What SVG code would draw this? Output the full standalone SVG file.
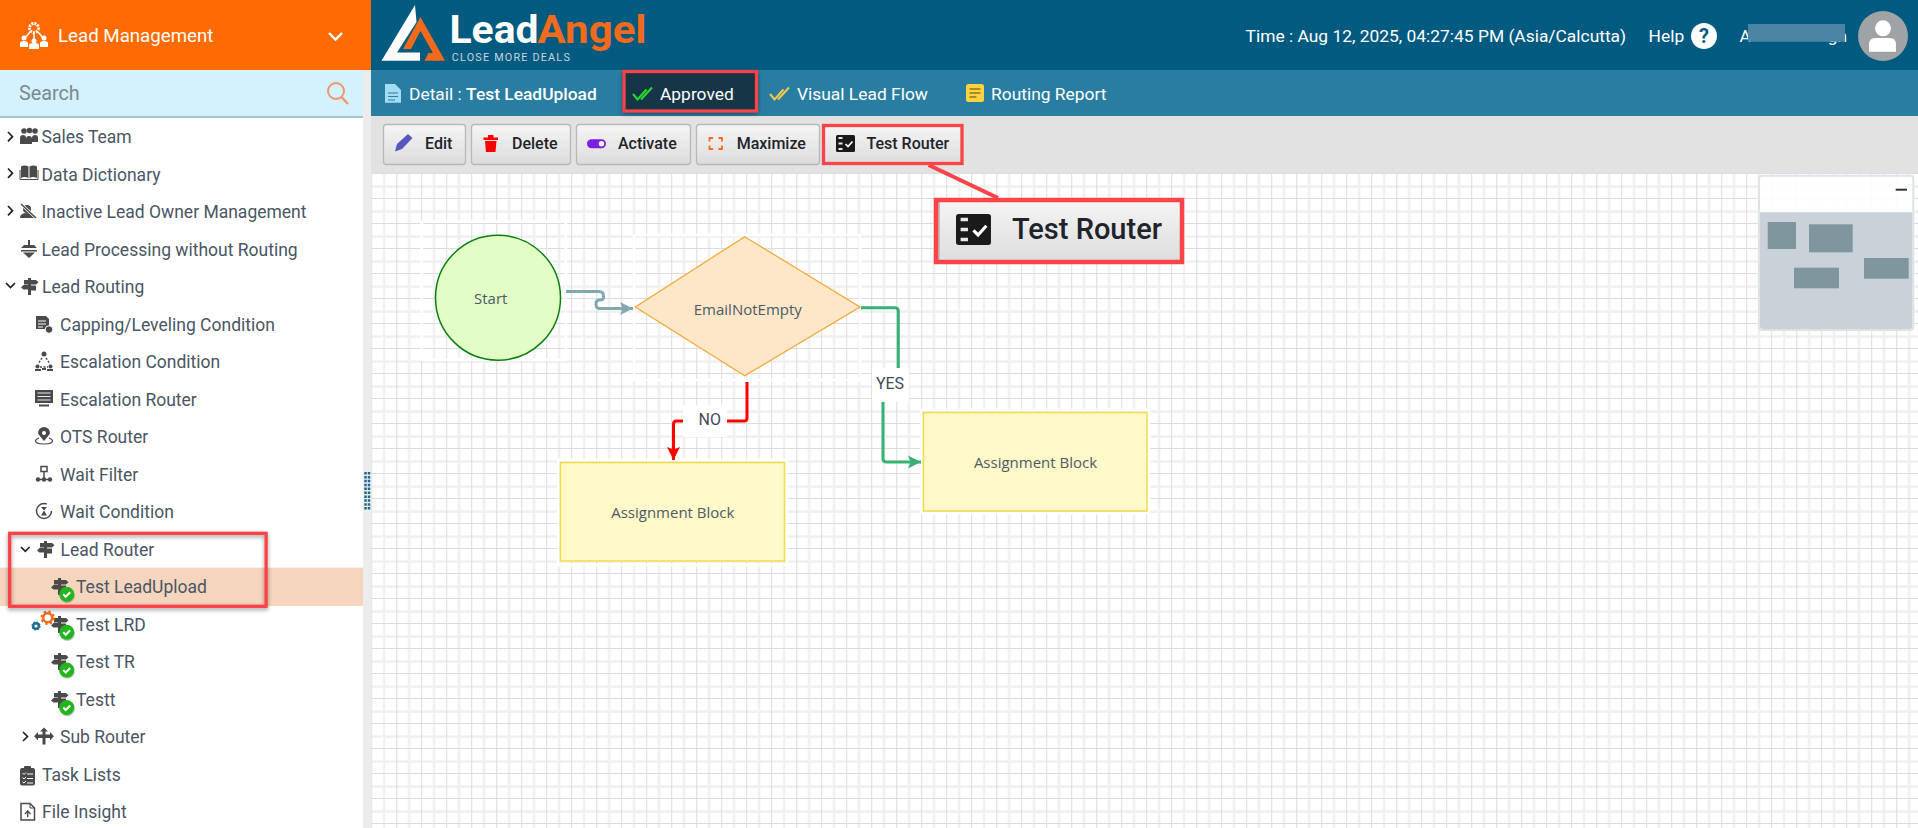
<svg xmlns="http://www.w3.org/2000/svg" xmlns:xlink="http://www.w3.org/1999/xlink" width="1918" height="828" viewBox="0 0 1918 828">
<style>
text{font-family:Roboto,"Liberation Sans",sans-serif}
.m{font-size:17.500px;fill:#4a5663}
.t{font-size:17.400px;fill:#fff}
.b{font-size:16px;font-weight:500;fill:#20242a}
.n{font-family:"Open Sans","Noto Sans",sans-serif;font-size:15px;fill:#4d5a66;text-anchor:middle}
.l{font-size:16px;fill:#3f4a55;text-anchor:middle}
.r{fill:none;stroke:#fb4348}
.i{fill:#4a4a4a}
.c{fill:none;stroke-width:3;stroke-linejoin:round}
.btn{fill:url(#bg);stroke:#b8b8b8;stroke-width:1.300}
.halo{fill:none;stroke:#fff;stroke-width:2.500}
.ch{fill:none;stroke:#222;stroke-width:1.700}
.mm{fill:#7f969f}
</style>
<defs>
<linearGradient id="bg" x1="0" y1="0" x2="0" y2="1"><stop offset="0" stop-color="#f5f5f5"/><stop offset="1" stop-color="#dcdcdc"/></linearGradient>
<pattern id="grid" width="25" height="25" patternUnits="userSpaceOnUse" x="371.200" y="173">
<rect width="25" height="25" fill="#fff"/>
<rect x="11.700" y="0" width="2.400" height="25" fill="#f0f0f0"/>
<rect x="0" y="12.400" width="25" height="2.400" fill="#f0f0f0"/>
<rect x="0" y="0" width="1" height="25" fill="#dddddd"/>
<rect x="0" y="0" width="25" height="1" fill="#dddddd"/>
</pattern>
<filter id="sh" x="-10%" y="-20%" width="120%" height="140%"><feDropShadow dx="0" dy="2" stdDeviation="2" flood-color="#000" flood-opacity=".4"/></filter>
<filter id="sh2" x="-20%" y="-20%" width="140%" height="140%"><feDropShadow dx="0.500" dy="1" stdDeviation="0.700" flood-color="#000" flood-opacity=".35"/></filter>
<g id="sign" class="i"><path d="M7 0h3v2h5l2.500 2.300-2.500 2.300h-5v1h5v4.900h-5V17H7v-5.500H2.500L0 9.500l2.500-2.400H7v-.5H3V2h4z"/></g>
<g id="ok"><circle r="7.500" fill="#22b51e" filter="url(#sh2)"/><path d="M-3.500 0l2.500 2.500 4.500-4.500" fill="none" stroke="#fff" stroke-width="2"/></g>
<g id="tr"><rect width="19" height="17" rx="1.500" fill="#1a1a1a"/><path d="M2.500 3h4M2.500 8.500h4M2.500 14h4" stroke="#e8e8e8" stroke-width="2"/><path d="M9.500 9l2.500 2.500 4.500-5" fill="none" stroke="#fff" stroke-width="1.700"/></g>
<marker id="aG" viewBox="0 0 15 15" refX="14" refY="7.500" markerWidth="15" markerHeight="15" markerUnits="userSpaceOnUse" orient="auto"><path d="M1 1l13 6.500-13 6.500 2.500-6.500z" fill="#38b174"/></marker>
<marker id="aR" viewBox="0 0 15 15" refX="14" refY="7.500" markerWidth="15" markerHeight="15" markerUnits="userSpaceOnUse" orient="auto"><path d="M1 1l13 6.500-13 6.500 2.500-6.500z" fill="#ff0000"/></marker>
<marker id="aB" viewBox="0 0 15 15" refX="14" refY="7.500" markerWidth="15" markerHeight="15" markerUnits="userSpaceOnUse" orient="auto"><path d="M1 1l13 6.500-13 6.500 2.500-6.500z" fill="#82a9b2"/></marker>
</defs>

<rect width="1918" height="828" fill="#fff"/>
<g id="canvas">
<rect x="371" y="173" width="1547" height="655" fill="url(#grid)"/>
<rect x="421.700" y="221.700" width="144" height="138" class="halo"/>
<rect x="634" y="235" width="226" height="145" class="halo"/>
<rect x="558" y="460" width="229" height="105" class="halo"/>
<rect x="921" y="410" width="228" height="103" class="halo"/>
</g>
<g id="gutter">
<rect x="363" y="70" width="8.500" height="758" fill="#ececec"/>
<path d="M365.500 472v38M369 472v38" stroke="#1c6a8c" stroke-width="2.500" stroke-dasharray="2.500 1.400" fill="none"/>
</g>

<g id="header">
<rect x="371" y="0" width="1547" height="70" fill="#015a80"/>
<rect x="371" y="70" width="1547" height="46" fill="#297da1"/>
<rect x="371" y="116" width="1547" height="57" fill="#e2e2e2"/>
<rect x="0" y="0" width="371" height="70" fill="#ff6b00"/>
</g>

<g id="brand">
<circle cx="34" cy="28" r="4.500" fill="none" stroke="#fff" stroke-width="3" stroke-dasharray="2 1"/>
<path d="M30 32l-6 7M38 32l6 7M34 33v6" stroke="#fff" stroke-width="1.500"/>
<circle cx="24" cy="38" r="2.500" fill="#fff"/><circle cx="34" cy="41" r="2.500" fill="#fff"/><circle cx="44" cy="38" r="2.500" fill="#fff"/>
<path d="M20 47v-4q0-2 4-2t4 2v4zM29 49v-4q0-2 5-2t5 2v4zM40 47v-4q0-2 4-2t4 2v4z" fill="#fff"/>
<text x="58" y="41.700" style="font-size:18.700px;fill:#fff">Lead Management</text>
<path d="M329 33l6.500 6.500 6.500-6.500" fill="none" stroke="#fff" stroke-width="2.400"/>
</g>
<g id="logo">
<path d="M415 5L416.500 22 397 52.500H420L420 60.700H381.500z" fill="#fff"/>
<path d="M420.400 17L445 60.700H424.500L428.500 53H433L420.400 31 411 49H403z" fill="#f26a1b"/>
<text x="449.500" y="43.300" style="font-size:38px;font-weight:700;fill:#fff" textLength="89" lengthAdjust="spacingAndGlyphs">Lead</text>
<text x="537.500" y="43.300" style="font-size:38px;font-weight:700;fill:#f26a1b" textLength="109" lengthAdjust="spacingAndGlyphs">Angel</text>
<text x="451.800" y="61" style="font-size:10.800px;fill:#c8d7de" textLength="118">CLOSE MORE DEALS</text>
</g>
<g id="top-right">
<text x="1245.600" y="41.700" class="t">Time : Aug 12, 2025, 04:27:45 PM (Asia/Calcutta)</text>
<text x="1648.600" y="41.700" class="t">Help</text>
<circle cx="1704" cy="36" r="13" fill="#fff"/><text x="1704" y="43" text-anchor="middle" style="font-size:20px;font-weight:700;fill:#015a80">?</text>
<text x="1739.400" y="41.700" class="t">A</text>
<text x="1847" y="41.700" class="t" text-anchor="end">gh</text>
<rect x="1748" y="24" width="97" height="17.700" fill="#4a85a5"/>
<circle cx="1883" cy="36" r="25" fill="#9fa3a6"/>
<circle cx="1883" cy="28.300" r="8" fill="#fff"/><path d="M1869 51.700v-7q0-6.700 6-6.700h15q6 0 6 6.700v7z" fill="#fff"/>
</g>

<g id="search">
<rect x="0" y="70" width="363" height="46" fill="#d4f1fe"/>
<rect x="0" y="116" width="363" height="2" fill="#a6c6d4"/>
<text x="19" y="100" style="font-size:19.800px;fill:#7d8891">Search</text>
<circle cx="336" cy="91" r="8" fill="none" stroke="#f2966a" stroke-width="2"/><path d="M341.500 97l6.500 7" stroke="#f2966a" stroke-width="2.500"/>
</g>

<g id="tree">
<path class="ch" d="M8 132l4.500 4.700-4.500 4.700M8 168.500l4.500 4.700-4.500 4.700M8 206l4.500 4.700-4.500 4.700M6 283l4.500 4.500 4.500-4.500M21 547l4.300 4.300 4.300-4.300M23 732l4.500 4.500-4.500 4.500"/>

<g id="t-sales"><path d="M20 142v-4q0-3 3-3t3 3v6h-6zM26 144v-5q0-3 3-3t3 3v5zM32 142v-4q0-3 3-3t3 3v4z" class="i"/><circle cx="24" cy="131" r="2.800" class="i"/><circle cx="29.500" cy="130.500" r="2.800" class="i"/><circle cx="35" cy="131" r="2.800" class="i"/><text class="m" x="41.500" y="142.700">Sales Team</text></g>
<g id="t-dict"><path d="M21 166.500q4-2 7.500 0v11.500q-4-2-7.500 0zM29.500 166.500q4-2 7.500 0v11.500q-4-2-7.500 0z" class="i"/><path d="M20 170v9.500h18v-9.500" fill="none" stroke="#4a4a4a"/><text class="m" x="41.500" y="180.500">Data Dictionary</text></g>
<g id="t-inactive"><circle cx="27" cy="209" r="4" class="i"/><path d="M20 218q0-5 7-5t9 5z" class="i"/><path d="M21 204l15 14" stroke="#fff" stroke-width="3"/><path d="M21 204l15 14" stroke="#4a4a4a" stroke-width="1.500"/><text class="m" x="41.500" y="218">Inactive Lead Owner Management</text></g>
<g id="t-proc"><path d="M29 240v5" stroke="#4a4a4a" stroke-width="2"/><path d="M24 245h10l3 3H21zM21 250h16v1.500H21zM23 252.500h12l-6 5.500z" class="i"/><text class="m" x="41.500" y="255.700">Lead Processing without Routing</text></g>
<g id="t-routing"><use href="#sign" x="21" y="278"/><text class="m" x="42" y="293">Lead Routing</text></g>
<g id="t-cap"><path d="M36 316h10l3 3v10H36z" class="i"/><path d="M38 321h8M38 324h8M38 327h5" stroke="#fff"/><circle cx="49" cy="329.500" r="3.800" class="i" stroke="#fff"/><text class="m" x="60" y="330.700">Capping/Leveling Condition</text></g>
<g id="t-escc"><circle cx="44" cy="354" r="2.500" class="i"/><circle cx="37.500" cy="366.500" r="2" class="i"/><circle cx="50.500" cy="366.500" r="2" class="i"/><path d="M42 358l-4 6M46 358l4 6M40 367h8" stroke="#4a4a4a" stroke-width="1.500" stroke-dasharray="2 1.500"/><path d="M35 370h6M47 370h6M42 369h4" stroke="#4a4a4a" stroke-width="2"/><text class="m" x="60" y="368">Escalation Condition</text></g>
<g id="t-escr"><rect x="35" y="390" width="18" height="13" class="i"/><path d="M37.500 393h13M37.500 396.500h13M37.500 400h13" stroke="#fff" stroke-width=".9"/><path d="M39 405.500h10" stroke="#4a4a4a" stroke-width="2"/><text class="m" x="60" y="405.700">Escalation Router</text></g>
<g id="t-ots"><path d="M44 441q-6-7-6-8a6 6 0 0 1 12 0q0 1-6 8z" class="i"/><circle cx="44" cy="433" r="2" fill="#fff"/><path d="M39 438q-3.500 1.500-3.500 3 0 3 8.500 3t8.500-3q0-1.500-3.500-3" fill="none" stroke="#4a4a4a" stroke-width="1.200"/><text class="m" x="60" y="443">OTS Router</text></g>
<g id="t-wf"><rect x="41" y="466.500" width="6" height="5" fill="none" stroke="#4a4a4a" stroke-width="1.500"/><path d="M44 471.500v8M38 479.500h12" stroke="#4a4a4a" stroke-width="1.500"/><circle cx="38" cy="479.500" r="2.200" class="i"/><circle cx="50" cy="479.500" r="2.200" class="i"/><circle cx="44" cy="479.500" r="2.200" class="i"/><text class="m" x="60" y="480.700">Wait Filter</text></g>
<g id="t-wc"><circle cx="44" cy="511" r="7.500" fill="none" stroke="#4a4a4a" stroke-width="1.500" stroke-dasharray="38 9"/><path d="M41 507h6l-3 3.500 3 5h-6l3-5z" class="i"/><text class="m" x="60" y="518">Wait Condition</text></g>
<g id="t-router"><use href="#sign" x="37" y="541"/><text class="m" x="60.500" y="555.700">Lead Router</text></g>
<g id="t-upload"><rect x="0" y="567.700" width="363" height="38.300" fill="#f5d5bd"/><use href="#sign" x="51" y="578"/><use href="#ok" x="66.700" y="594.300"/><text class="m" x="76" y="593.300">Test LeadUpload</text></g>
<g id="t-lrd"><use href="#sign" x="51" y="616"/><use href="#ok" x="66.700" y="632.300"/><circle cx="47.700" cy="617.700" r="4.500" fill="none" stroke="#f26a1b" stroke-width="2.500"/><circle cx="47.700" cy="617.700" r="6.200" fill="none" stroke="#f26a1b" stroke-width="2" stroke-dasharray="2.400 2.470"/><circle cx="36" cy="626" r="2.800" fill="none" stroke="#1f6f8f" stroke-width="2.400"/><circle cx="36" cy="626" r="4" fill="none" stroke="#1f6f8f" stroke-width="1.200" stroke-dasharray="1.600 1.540"/><text class="m" x="76" y="630.700">Test LRD</text></g>
<g id="t-tr"><use href="#sign" x="51" y="653"/><use href="#ok" x="66.700" y="670"/><text class="m" x="76" y="668">Test TR</text></g>
<g id="t-testt"><use href="#sign" x="51" y="691"/><use href="#ok" x="66.700" y="707.500"/><text class="m" x="76" y="705.700">Testt</text></g>
<g id="t-sub"><path d="M44 727.500l4 4h-2.500v3H50v-2.500l4 4.300-4 4.300V738h-4.500v6.500h-3V738H38v2.600l-4-4.300 4-4.300v2.500h4.500v-3H40z" class="i"/><text class="m" x="60" y="743.300">Sub Router</text></g>
<g id="t-task"><rect x="20" y="768" width="15" height="17.500" rx="2" class="i"/><rect x="24" y="766" width="7" height="4" rx="1" class="i"/><path d="M22.500 773l1.500 1.500 2-2M22.500 777.500l1.500 1.500 2-2M22.500 782l1.500 1 2-2M27 774h6M27 778.500h6M27 783h6" fill="none" stroke="#fff"/><text class="m" x="42" y="780.700">Task Lists</text></g>
<g id="t-file"><path d="M21 803.500h9l4.500 4.500v12H21z" fill="none" stroke="#4a4a4a" stroke-width="1.500"/><path d="M30 803.500v4.500h4.500" fill="none" stroke="#4a4a4a"/><path d="M27.700 817v-6m-2.800 3l2.800-3 2.800 3" fill="none" stroke="#4a4a4a" stroke-width="1.300"/><text class="m" x="42" y="818">File Insight</text></g>
<rect x="9.700" y="533.300" width="256.400" height="73" class="r" style="stroke-width:3.300" filter="url(#sh)"/>
</g>

<g id="tabs">
<path d="M385 84h10l6 6v12.700H385z" fill="#a5dcf5"/><path d="M388 93h10M388 96.500h10M388 100h7" stroke="#297da1" stroke-width="1.100"/>
<text x="409" y="100" class="t">Detail : <tspan font-weight="500">Test LeadUpload</tspan></text>
<g id="tab-approved"><rect x="622.500" y="70.500" width="135.500" height="41.500" fill="#143547" filter="url(#sh)"/>
<rect x="624" y="71.500" width="132.500" height="39.500" class="r" style="stroke-width:3.300"/>
<path d="M633 94l4.500 5.500 9-10M641 99.500l11-12" fill="none" stroke="#29d92e" stroke-width="2"/>
<text x="660" y="100" class="t">Approved</text></g>
<g id="tab-visual"><path d="M770 94l4.500 5.500 9-10M778 99.500l11-12" fill="none" stroke="#f2c94c" stroke-width="2"/><text x="797" y="100" class="t">Visual Lead Flow</text></g>
<g id="tab-report"><rect x="966" y="84" width="18" height="18" rx="2.500" fill="#fcd33f"/><path d="M969.500 89h11M969.500 93h11M969.500 97h7" stroke="#8a7420" stroke-width="1.300"/><text x="991" y="100" class="t">Routing Report</text></g>
</g>

<g id="toolbar">
<g id="btn-edit"><rect x="383.500" y="124.500" width="82" height="40" rx="3" class="btn"/><path d="M395 151.500l2-7.500 11-10 4.500 4-10.500 11z" fill="#5757bd"/><text class="b" x="425" y="149">Edit</text></g>
<g id="btn-delete"><rect x="471.500" y="124.500" width="99" height="40" rx="3" class="btn"/><path d="M483.500 137.500h14.500v2.500h-14.500zM488 135h5.500v3h-5.500zM485 141h11.500l-1 11h-9.500z" fill="#ff0000"/><text class="b" x="512" y="149">Delete</text></g>
<g id="btn-activate"><rect x="576.500" y="124.500" width="114" height="40" rx="3" class="btn"/><rect x="587" y="139.300" width="19" height="9" rx="4.500" fill="#7e1fe0"/><circle cx="601.500" cy="143.800" r="2.700" fill="#fff"/><text class="b" x="618" y="149">Activate</text></g>
<g id="btn-maximize"><rect x="696.500" y="124.500" width="123" height="40" rx="3" class="btn"/><path d="M713 138h-3.500v3.500M718.500 138h3.500v3.500M713 149h-3.500v-3.500M718.500 149h3.500v-3.500" fill="none" stroke="#f26a1b" stroke-width="1.800"/><text class="b" x="736.700" y="149">Maximize</text></g>
<g id="btn-test"><rect x="823" y="125" width="139" height="39" fill="url(#bg)"/><use href="#tr" x="836" y="135"/><text class="b" x="866.500" y="149">Test Router</text><rect x="823.500" y="125.500" width="138.500" height="38" class="r" style="stroke-width:3.300"/></g>
</g>

<g id="callout">
<path d="M928.600 165L998 198" stroke="#fb4348" stroke-width="4" fill="none"/>
<rect x="936" y="200" width="246" height="62" fill="url(#bg)"/>
<rect x="938" y="201" width="2" height="60" fill="#c0c0c0"/>
<use href="#tr" transform="translate(956 214) scale(1.840 1.820)"/>
<text x="1012" y="239" style="font-size:29px;font-weight:500;fill:#20242a">Test Router</text>
<rect x="936" y="200" width="246" height="62" class="r" style="stroke-width:4.500"/>
</g>

<g id="minimap">
<rect x="1759" y="175.700" width="154.300" height="154.300" rx="3" fill="#fff" fill-opacity=".88" stroke="#dde3e8" stroke-width="2"/>
<path d="M1760 212.300h152.300V326q0 3-3 3h-146.300q-3 0-3-3z" fill="#c3ced5" fill-opacity=".92"/>
<rect class="mm" x="1767.700" y="222" width="28.300" height="27"/>
<rect class="mm" x="1809" y="224.300" width="43.700" height="28"/>
<rect class="mm" x="1864" y="258" width="44.700" height="20.700"/>
<rect class="mm" x="1794" y="267.700" width="45" height="20.600"/>
<path d="M1895.700 189.700h11.300" stroke="#333" stroke-width="2"/>
</g>

<g id="connectors">
<path class="c" stroke="#82a9b2" d="M566 291.500H599Q603.500 291.500 603.500 296V297Q603.500 300 600 300H599Q596 300 596 304Q596 308.500 600 308.500H633" marker-end="url(#aB)"/>
<path class="c" stroke="#ff0000" d="M747 382V418Q747 421 744 421H725"/>
<path class="c" stroke="#ff0000" d="M695 421H676.500Q673.500 421 673.500 424V460" marker-end="url(#aR)"/>
<path class="c" stroke="#38b174" d="M861 307.700H895Q898.300 307.700 898.300 311V368"/>
<path class="c" stroke="#38b174" d="M883 401.700V458.500Q883 462 886.500 462H921" marker-end="url(#aG)"/>
</g>

<g id="node-start"><circle cx="498" cy="297.700" r="62.500" fill="#e2fdc6" stroke="#0d7f10" stroke-width="1.500"/><text class="n" x="490.700" y="304">Start</text></g>
<g id="node-decision"><path d="M744.700 236.700L860 307 744.700 375.700 635.300 307z" fill="#fee7c8" stroke="#f5a93c" stroke-width="1.300"/><text class="n" x="747.800" y="315">EmailNotEmpty</text></g>
<g id="node-assign-no"><rect x="560.500" y="462.500" width="224" height="98.500" fill="#fff8c8" stroke="#f2dc4a" stroke-width="1.500"/><text class="n" x="672.800" y="518">Assignment Block</text></g>
<g id="node-assign-yes"><rect x="923.500" y="412.500" width="223.500" height="98.500" fill="#fff8c8" stroke="#f2dc4a" stroke-width="1.500"/><text class="n" x="1035.500" y="468.300">Assignment Block</text></g>
<g id="edge-labels">
<rect x="683" y="405" width="44" height="32" fill="#fff"/><text class="l" x="709.700" y="425">NO</text>
<rect x="872" y="368" width="37" height="33.700" fill="#fff"/><text class="l" x="890" y="389.300">YES</text>
</g>
</svg>
